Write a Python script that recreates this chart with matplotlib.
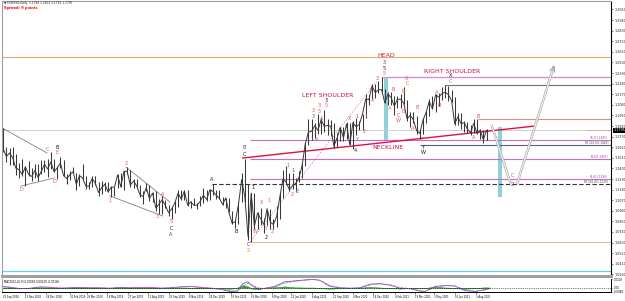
import numpy as np
import matplotlib.pyplot as plt
from matplotlib.transforms import blended_transform_factory

# weekly EURUSD bars, first week starts Monday 2018-09-17
hi18 = [1.1787, 1.1815, 1.1622, 1.1610, 1.1622, 1.1546, 1.1456, 1.1500, 1.1421, 1.1473, 1.1402, 1.1442, 1.1442, 1.1486, 1.1486, 1.1497]
lo18 = [1.1622, 1.1573, 1.1463, 1.1432, 1.1433, 1.1335, 1.1302, 1.1317, 1.1216, 1.1322, 1.1267, 1.1304, 1.1269, 1.1343, 1.1363, 1.1309]
cl18 = [1.1746, 1.1604, 1.1524, 1.1560, 1.1512, 1.1402, 1.1388, 1.1336, 1.1416, 1.1338, 1.1316, 1.1380, 1.1305, 1.1370, 1.1443, 1.1394]

hi19 = [1.1570, 1.1499, 1.1420, 1.1514, 1.1488, 1.1342, 1.1372, 1.1419, 1.1356, 1.1340, 1.1448, 1.1325,
        1.1255, 1.1324, 1.1324, 1.1264, 1.1265, 1.1254, 1.1264, 1.1214, 1.1210, 1.1347, 1.1348, 1.1370, 1.1412,
        1.1386, 1.1286, 1.1286, 1.1230, 1.1168, 1.1250, 1.1230, 1.1154, 1.1165, 1.1085, 1.1110, 1.1075, 1.1025, 1.0998,
        1.1063, 1.1172, 1.1179, 1.1175, 1.1175, 1.1062, 1.1089, 1.1041, 1.1116, 1.1200, 1.1175, 1.1190, 1.1239]
lo19 = [1.1396, 1.1361, 1.1290, 1.1400, 1.1323, 1.1234, 1.1275, 1.1355, 1.1176, 1.1218, 1.1275, 1.1184,
        1.1183, 1.1210, 1.1226, 1.1111, 1.1136, 1.1162, 1.1157, 1.1107, 1.1116, 1.1195, 1.1202, 1.1181, 1.1345,
        1.1207, 1.1193, 1.1200, 1.1102, 1.1027, 1.1168, 1.1065, 1.1052, 1.0962, 1.0927, 1.0926, 1.0990, 1.0903, 1.0879,
        1.0940, 1.1003, 1.1072, 1.1072, 1.1014, 1.0989, 1.1015, 1.0981, 1.1008, 1.1040, 1.1065, 1.1068, 1.1125]
cl19 = [1.1467, 1.1365, 1.1405, 1.1456, 1.1325, 1.1294, 1.1336, 1.1365, 1.1234, 1.1325, 1.1300, 1.1217,
        1.1215, 1.1296, 1.1245, 1.1150, 1.1201, 1.1235, 1.1157, 1.1204, 1.1207, 1.1331, 1.1209, 1.1370, 1.1370,
        1.1226, 1.1269, 1.1219, 1.1127, 1.1108, 1.1200, 1.1090, 1.1143, 1.0990, 1.1028, 1.1074, 1.1016, 1.0941, 1.0980,
        1.1042, 1.1143, 1.1080, 1.1165, 1.1019, 1.1052, 1.1018, 1.1017, 1.1060, 1.1122, 1.1078, 1.1176, 1.1162]

hi20 = [1.1172, 1.1173, 1.1100, 1.1097, 1.1095, 1.0955, 1.0864, 1.1053, 1.1355, 1.1495, 1.1237, 1.1147, 1.1148,
        1.0950, 1.0991, 1.0890, 1.0972, 1.0980, 1.0876, 1.1009, 1.1145, 1.1384, 1.1422, 1.1349, 1.1349, 1.1303,
        1.1371, 1.1452, 1.1660, 1.1909, 1.1915, 1.1870, 1.1965, 1.1921, 1.2011, 1.1916, 1.1901, 1.1872, 1.1770,
        1.1831, 1.1830, 1.1881, 1.1870, 1.1892, 1.1920, 1.1893, 1.1964, 1.2177, 1.2163, 1.2273, 1.2272, 1.2310]
lo20 = [1.1086, 1.1086, 1.1022, 1.0992, 1.0943, 1.0827, 1.0778, 1.0822, 1.1055, 1.1054, 1.0653, 1.0636, 1.0768,
        1.0770, 1.0813, 1.0727, 1.0812, 1.0766, 1.0775, 1.0795, 1.0870, 1.1095, 1.1237, 1.1168, 1.1190, 1.1168,
        1.1254, 1.1296, 1.1420, 1.1646, 1.1696, 1.1711, 1.1753, 1.1753, 1.1780, 1.1750, 1.1737, 1.1612, 1.1625,
        1.1686, 1.1689, 1.1703, 1.1640, 1.1603, 1.1745, 1.1800, 1.1800, 1.1923, 1.2059, 1.2124, 1.2130, 1.2186]
cl20 = [1.1120, 1.1090, 1.1026, 1.1093, 1.0944, 1.0830, 1.0848, 1.1026, 1.1284, 1.1104, 1.0694, 1.1142, 1.0800,
        1.0936, 1.0876, 1.0817, 1.0982, 1.0842, 1.0818, 1.0902, 1.1103, 1.1290, 1.1256, 1.1180, 1.1220, 1.1245,
        1.1300, 1.1427, 1.1655, 1.1778, 1.1786, 1.1842, 1.1796, 1.1906, 1.1837, 1.1846, 1.1838, 1.1631, 1.1715,
        1.1825, 1.1718, 1.1860, 1.1647, 1.1875, 1.1833, 1.1856, 1.1964, 1.2120, 1.2114, 1.2255, 1.2188, 1.2216]

hi21 = [1.2349, 1.2222, 1.2189, 1.2190, 1.2150, 1.2150, 1.2169, 1.2243, 1.2114, 1.1990, 1.1989, 1.1945, 1.1799,
        1.1928, 1.1995, 1.2117, 1.2150, 1.2172, 1.2180, 1.2245, 1.2266, 1.2254, 1.2218, 1.2145, 1.1975, 1.1975,
        1.1895, 1.1880, 1.1850, 1.1909, 1.1908, 1.1806, 1.1803, 1.1809]
lo21 = [1.2193, 1.2076, 1.2054, 1.2058, 1.1952, 1.2023, 1.2023, 1.2065, 1.1894, 1.1835, 1.1875, 1.1762, 1.1704,
        1.1760, 1.1868, 1.1948, 1.2019, 1.1985, 1.2051, 1.2114, 1.2134, 1.2105, 1.2093, 1.1847, 1.1848, 1.1807,
        1.1781, 1.1772, 1.1752, 1.1770, 1.1760, 1.1705, 1.1664, 1.1692]
cl21 = [1.2218, 1.2081, 1.2170, 1.2136, 1.2046, 1.2118, 1.2118, 1.2075, 1.1915, 1.1951, 1.1904, 1.1793, 1.1764,
        1.1899, 1.1982, 1.2097, 1.2018, 1.2164, 1.2140, 1.2177, 1.2192, 1.2166, 1.2107, 1.1864, 1.1936, 1.1865,
        1.1875, 1.1808, 1.1771, 1.1869, 1.1762, 1.1796, 1.1698, 1.1795]

high = np.array(hi18 + hi19 + hi20 + hi21)
low = np.array(lo18 + lo19 + lo20 + lo21)
close = np.array(cl18 + cl19 + cl20 + cl21)

start = np.datetime64('2018-09-17')
weeks = start + 7 * np.arange(len(close))
xb = np.busday_count(start, weeks) + 2   # x axis = trading day number

date_dates = ['2018-09-20', '2018-11-13', '2018-12-28', '2019-02-20', '2019-03-29', '2019-05-14',
              '2019-06-27', '2019-08-12', '2019-09-25', '2019-11-08', '2019-12-24', '2020-02-10',
              '2020-03-25', '2020-05-08', '2020-06-22', '2020-08-06', '2020-09-21', '2020-11-04',
              '2020-12-18', '2021-02-04', '2021-03-19', '2021-05-03', '2021-06-16', '2021-08-03']
date_labels = ['20 Sep 2018', '13 Nov 2018', '28 Dec 2018', '20 Feb 2019', '29 Mar 2019', '14 May 2019',
               '27 Jun 2019', '12 Aug 2019', '25 Sep 2019', '8 Nov 2019', '24 Dec 2019', '10 Feb 2020',
               '25 Mar 2020', '8 May 2020', '22 Jun 2020', '6 Aug 2020', '21 Sep 2020', '4 Nov 2020',
               '18 Dec 2020', '4 Feb 2021', '19 Mar 2021', '3 May 2021', '16 Jun 2021', '3 Aug 2021']

# levels
orange_lvl = 1.2555
head_lvl = 1.2349
rs_lvl = 1.2266
b_lvl = 1.1909
last_price = 1.1795
fib_lvls = [1.1695, 1.1493, 1.1290]
fib_names = ['38.2', '50.0', '61.8']
fe100 = 1.1643
fe161 = 1.1239
low_lvl = 1.0636
cyan_lvl = 1.0340

neck_x, neck_y = [384, 843], [1.1508, 1.1840]
dot_x, dot_y = [395, 595], [1.0636, 1.2310]
tl_x, tl_y = [0, 76], [1.1840, 1.1560]
dd_x, dd_y = [35, 87], [1.1217, 1.1300]
wu_x, wu_y = [200, 269], [1.1415, 1.1051]
wl_x, wl_y = [175, 258], [1.1114, 1.0906]
proj_dn_x, proj_dn_y = [775, 805], [1.1850, 1.1239]
proj_up_x, proj_up_y = [815, 873], [1.1239, 1.2465]
box1_x, box1_y = [606, 612], [1.1695, 1.2349]
box2_x, box2_y = [785, 791], [1.1100, 1.1830]

R, K, P, B, O = '#e8534f', '#1a1a1a', '#8b1a8b', '#3b5bdb', '#f08a10'
waves = [
    (77, 1.1601, 'C', R), (92, 1.1622, 'B', K), (92, 1.1560, 'E', R),
    (35, 1.1186, 'D', R), (87, 1.1259, 'D', R),
    (200, 1.1456, '2', R), (175, 1.1072, '1', R), (258, 1.1134, '4', R),
    (249, 1.0896, '3', R), (271, 1.0844, '5', R), (271, 1.0781, 'C', K), (271, 1.0709, 'A', P),
    (335, 1.1280, 'A', K), (373, 1.0750, 'B', K), (386, 1.1612, 'B', P), (386, 1.1549, 'C', K),
    (393, 1.0615, 'C', P), (393, 1.0543, '2', O), (400, 1.1197, '1', K), (404, 1.0750, 'W', R),
    (414, 1.1041, 'X', R), (425, 1.1062, '1', R), (419, 1.0781, 'Y', R), (430, 1.0740, '2', R),
    (420, 1.0678, '2', K), (455, 1.1435, '1', R), (463, 1.1383, '1', B), (461, 1.1134, '2', R),
    (469, 1.1165, '2', B),
    (492, 1.1705, '1', B), (500, 1.1705, '4', R), (494, 1.1944, '3', B), (494, 1.2006, '3', R),
    (507, 1.1923, '4', R), (504, 1.2048, '3', R), (504, 1.1996, '5', R), (515, 1.2100, '3', K),
    (515, 1.2048, '5', R),
    (551, 1.1913, 'X', R), (563, 1.1944, '1', R), (577, 1.1944, '1', R), (574, 1.1788, '2', R),
    (562, 1.1695, 'Y', R), (560, 1.1581, '4', K),
    (584, 1.2214, '3', R), (587, 1.2100, '4', R), (595, 1.2338, '3', R),
    (606, 1.2504, '3', P), (606, 1.2442, '5', K), (606, 1.2390, '5', R),
    (614, 1.2027, 'A', R), (620, 1.2224, 'B', R), (636, 1.2203, 'B', R), (642, 1.2338, 'X', R),
    (642, 1.2286, 'C', R), (628, 1.1954, 'C', R), (628, 1.1902, 'W', R), (636, 1.1996, 'B', R),
    (658, 1.2037, 'B', R), (651, 1.1819, 'A', R),
    (667, 1.1695, 'C', R), (667, 1.1622, 'Y', K), (667, 1.1560, 'W', K),
    (688, 1.2193, 'A', R), (692, 1.2058, 'B', R), (710, 1.2369, 'X', K), (710, 1.2307, 'C', R),
    (754, 1.1944, 'B', R), (747, 1.1726, 'A', R), (808, 1.1331, 'C', R), (808, 1.1238, '2', P),
]
titles = [(609, 1.2577, 'HEAD'), (518, 1.2162, 'LEFT SHOULDER'),
          (713, 1.2411, 'RIGHT SHOULDER'), (612, 1.1622, 'NECKLINE')]

# MACD panel
m_x = [2, 18, 33, 49, 65, 81, 96, 112, 128, 144, 159, 175, 191, 206, 222, 238, 254, 269, 285, 301,
       316, 332, 348, 364, 375, 384, 392, 398, 408, 419, 434, 450, 466, 482, 494, 505, 521, 537, 552,
       568, 584, 599, 615, 631, 647, 662, 670, 686, 702, 717, 733, 749, 764, 772]
m_blue = [0.0018, 0.0006, -0.0012, -0.0006, 0.0012, 0.0006, -0.0006, 0.0, 0.0006, 0.0, 0.0, -0.0006,
          0.0006, 0.0, 0.0006, 0.0006, -0.0006, 0.0, 0.0012, 0.0018, 0.0006, -0.0006, -0.0018, -0.0048,
          -0.0042, 0.0054, 0.0078, 0.0030, -0.0018, -0.0006, 0.0018, 0.0078, 0.0090, 0.0102, 0.0110,
          0.0096, 0.0018, 0.0, -0.0006, 0.0, 0.0048, 0.0054, 0.0036, -0.0006, -0.0012, -0.0042, -0.0048,
          0.0018, 0.0030, 0.0024, -0.0036, -0.0048, -0.0024, -0.0006]
m_red = [0.0020, 0.0010, -0.0006, -0.0008, 0.0006, 0.0008, 0.0, -0.0002, 0.0004, 0.0002, 0.0, -0.0004,
         0.0002, 0.0002, 0.0004, 0.0006, 0.0, -0.0002, 0.0008, 0.0016, 0.0010, 0.0, -0.0012, -0.0036,
         -0.0044, 0.0020, 0.0060, 0.0040, 0.0, -0.0010, 0.0010, 0.0060, 0.0084, 0.0098, 0.0106, 0.0100,
         0.0030, 0.0004, -0.0004, -0.0002, 0.0036, 0.0050, 0.0040, 0.0004, -0.0010, -0.0036, -0.0046,
         0.0004, 0.0026, 0.0026, -0.0024, -0.0044, -0.0030, -0.0010]
m_green = [0.0003, 0.0002, -0.0004, 0.0001, 0.0005, 0.0, -0.0005, 0.0002, 0.0002, -0.0001, 0.0, -0.0002,
           0.0004, -0.0001, 0.0002, 0.0, -0.0005, 0.0002, 0.0004, 0.0002, -0.0004, -0.0005, -0.0006,
           -0.0012, 0.0002, 0.0034, 0.0018, -0.0010, -0.0018, 0.0004, 0.0008, 0.0018, 0.0006, 0.0004,
           0.0004, -0.0004, -0.0012, -0.0004, -0.0002, 0.0002, 0.0012, 0.0004, -0.0004, -0.0010, -0.0002,
           -0.0006, -0.0002, 0.0014, 0.0004, -0.0002, -0.0012, -0.0004, 0.0006, 0.0004]

W, H = 625, 301
XMIN, XMAX = 5.2, 962.7
fig = plt.figure(figsize=(W / 100, H / 100), dpi=100)
ax = fig.add_axes([2 / W, 25 / H, 609 / W, 275 / H])
ax2 = fig.add_axes([2 / W, 9 / H, 609 / W, 13 / H])

# horizontal levels
ax.axhline(orange_lvl, color='#f4a460', lw=0.8)
ax.axhline(cyan_lvl, color='#5fd3f3', lw=0.9)
ax.axhline(last_price, color='#c8c8c8', lw=0.6)
ax.hlines(head_lvl, 602, XMAX, color='#d58fd5', lw=1.0)
ax.hlines(rs_lvl, 701, XMAX, color='#707070', lw=0.8)
ax.hlines(b_lvl, 754, XMAX, color='#e08a8a', lw=0.8)
ax.hlines(fib_lvls, 395, XMAX, color='#c86cc8', lw=0.8)
ax.hlines(fe100, 662, XMAX, color='#606060', lw=0.8)
ax.hlines(fe161, 335, XMAX, color='#333333', lw=0.8, linestyles=(0, (4, 2)))
ax.hlines(low_lvl, 395, XMAX, color='#f0b898', lw=0.8)
ax.hlines(last_price, 925, XMAX, color='#ff6a3d', lw=0.7, linestyles=':')

for i, n in enumerate(fib_names):
    ax.text(958, fib_lvls[i], '%s(%.4f)' % (n, fib_lvls[i]), color='#a040a0', fontsize=2.0,
            ha='right', va='bottom')
ax.text(958, fe100, 'FE 100.0(%.4f)' % fe100, color='#404040', fontsize=2.0, ha='right', va='bottom')
ax.text(958, fe161, 'FE 161.8(%.4f)' % fe161, color='#404040', fontsize=2.0, ha='right', va='bottom')

# cyan boxes
ax.fill_between(box1_x, box1_y[0], box1_y[1], color='#8fd0da', lw=0)
ax.fill_between(box2_x, box2_y[0], box2_y[1], color='#8fd0da', lw=0)

# trend lines
ax.plot(tl_x, tl_y, color='#808080', lw=0.6)
ax.plot(dd_x, dd_y, color='#808080', lw=0.6)
ax.plot(wu_x, wu_y, color='#808080', lw=0.6)
ax.plot(wl_x, wl_y, color='#808080', lw=0.6)
ax.plot(dot_x, dot_y, color='#d070d0', lw=0.7, ls=':')
ax.plot(neck_x, neck_y, color='#e0103c', lw=1.0)

# projection path
for px, py in [(proj_dn_x, proj_dn_y), (proj_up_x, proj_up_y)]:
    ax.plot(px, py, color='#b4b4b4', lw=1.8, solid_capstyle='butt')
    ax.plot(px, py, color='white', lw=0.6, solid_capstyle='butt')
ax.annotate('', xy=(proj_up_x[1] + 2, proj_up_y[1] + 0.003), xytext=(proj_up_x[1] - 4, proj_up_y[1] - 0.008),
            arrowprops=dict(arrowstyle='->', color='#a0a0a0', lw=0.6))

# price bars
ax.vlines(xb, low, high, color='#383838', lw=0.75)
ax.plot(xb, close, color='#383838', lw=0.7)

# wave labels
for x, y, t, c in waves:
    ax.text(x, y, t, color=c, fontsize=3.6, ha='center', va='center')
for x, y, t in titles:
    ax.text(x, y, t, color='#d0103a', fontsize=4.5, ha='center', va='center')

ax.set_xlim(XMIN, XMAX)
ax.set_ylim(1.0283, 1.3138)
yt = np.arange(1.0300, 1.3100, 0.0110)
ax.set_yticks(yt)
ax.set_yticklabels(['%.4f' % v for v in yt])
ax.yaxis.tick_right()
ax.tick_params(axis='y', labelsize=2.4, length=1.5, width=0.4, pad=1, colors='#222222')
ax.set_xticks([])
for s in ['left', 'top']:
    ax.spines[s].set_color('#a0a0a0')
    ax.spines[s].set_linewidth(0.8)
ax.spines['right'].set_color('black')
ax.spines['right'].set_linewidth(0.8)
ax.spines['bottom'].set_color('#a0a0a0')
ax.spines['bottom'].set_linewidth(2.2)

tr = blended_transform_factory(ax.transAxes, ax.transData)
ax.text(1.004, last_price, '%.4f' % last_price, transform=tr, color='white', fontsize=2.4,
        ha='left', va='center', clip_on=False,
        bbox=dict(fc='black', ec='none', pad=0.4))

# header
fig.text(4 / W, 1 - 3 / H, '\u25bc EURUSD,Daily  1.1794 1.1801 1.1781 1.1795', fontsize=2.1,
         va='center', ha='left', color='#222222')
fig.text(4 / W, 1 - 7.5 / H, 'Spread: 9 points', fontsize=2.6, va='center', ha='left',
         color='#ff0000', fontweight='bold')

# MACD panel
ax2.fill_between(m_x, m_green, 0, color='#2ca02c', lw=0.4)
ax2.plot(m_x, m_blue, color='#4a5cf0', lw=0.6)
ax2.plot(m_x, m_red, color='#f05a6a', lw=0.5, ls='--')
ax2.axhline(0, color='black', lw=0.5, ls=':')
ax2.set_xlim(XMIN, XMAX)
ax2.set_ylim(-0.0054, 0.0114)
ax2.yaxis.tick_right()
ax2.set_yticks([0.0108, 0.0, -0.0048])
ax2.set_yticklabels(['0.0108', '0.00', '-0.0048'])
ax2.tick_params(axis='y', labelsize=1.9, length=1.0, width=0.4, pad=0.8)
ax2.text(0.003, 0.95, 'MACD(12,26,9) 0.00083 0.00229 -0.00146', transform=ax2.transAxes,
         fontsize=1.9, va='top', ha='left')
ticks = [int(np.busday_count(start, np.datetime64(d))) for d in date_dates]
ax2.set_xticks([t for t in ticks if t >= XMIN])
ax2.set_xticklabels([])
ax2.tick_params(axis='x', length=1.2, width=0.4)
trx = blended_transform_factory(ax2.transData, ax2.transAxes)
for t, lab in zip(ticks, date_labels):
    ax2.text(max(t, XMIN + 1), -0.25, lab, transform=trx, fontsize=1.8, ha='left', va='top',
             clip_on=False)
ax2.spines['top'].set_visible(False)
ax2.spines['left'].set_color('#a0a0a0')
for s in ['right', 'bottom']:
    ax2.spines[s].set_color('black')
    ax2.spines[s].set_linewidth(0.7)

fig.savefig('out.png', dpi=100)
